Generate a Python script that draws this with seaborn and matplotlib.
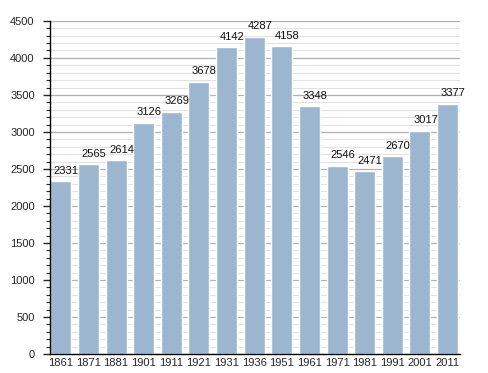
import matplotlib
matplotlib.use("Agg")
import matplotlib.pyplot as plt
import seaborn as sns
import pandas as pd
from matplotlib.ticker import MultipleLocator

years = ["1861", "1871", "1881", "1901", "1911", "1921", "1931", "1936",
         "1951", "1961", "1971", "1981", "1991", "2001", "2011"]
population = [2331, 2565, 2614, 3126, 3269, 3678, 4142, 4287,
              4158, 3348, 2546, 2471, 2670, 3017, 3377]

df = pd.DataFrame({"year": years, "pop": population})

sns.set_style("white")
plt.rcParams['font.family'] = ['Liberation Sans', 'DejaVu Sans']

fig = plt.figure(figsize=(4.88, 3.73), dpi=100)
ax = fig.add_axes([0.1025, 0.051, 0.84, 0.893])

ax.yaxis.set_major_locator(MultipleLocator(500))
ax.yaxis.set_minor_locator(MultipleLocator(100))
ax.grid(axis="y", which="major", color="#b0b0b0", linewidth=0.9, zorder=0)
ax.grid(axis="y", which="minor", color="#e2e2e2", linewidth=0.8, zorder=0)
ax.set_axisbelow(True)

sns.barplot(data=df, x="year", y="pop", color="#9cb6d0", saturation=1,
            width=0.76, ax=ax, zorder=2)

for i, v in enumerate(population):
    ax.annotate(str(v), xy=(i, v), xytext=(4, 4), textcoords="offset points",
                ha="center", va="bottom", fontsize=8, color="#111111")

ax.set_ylim(0, 4500)
ax.set_xlim(-0.39, 14.45)
ax.set_xlabel("")
ax.set_ylabel("")
for s in ["top", "right"]:
    ax.spines[s].set_visible(False)
ax.spines["left"].set_color("black")
ax.spines["bottom"].set_color("black")
ax.spines["left"].set_linewidth(1.0)
ax.spines["bottom"].set_linewidth(1.0)
ax.tick_params(axis="y", which="major", length=5, width=1, direction="out", left=True, labelsize=8, pad=6)
ax.tick_params(axis="y", which="minor", length=3, width=0.8, direction="out", left=True)
ax.tick_params(axis="x", length=0, labelsize=8, pad=3)

fig.savefig("out.png", dpi=100)
